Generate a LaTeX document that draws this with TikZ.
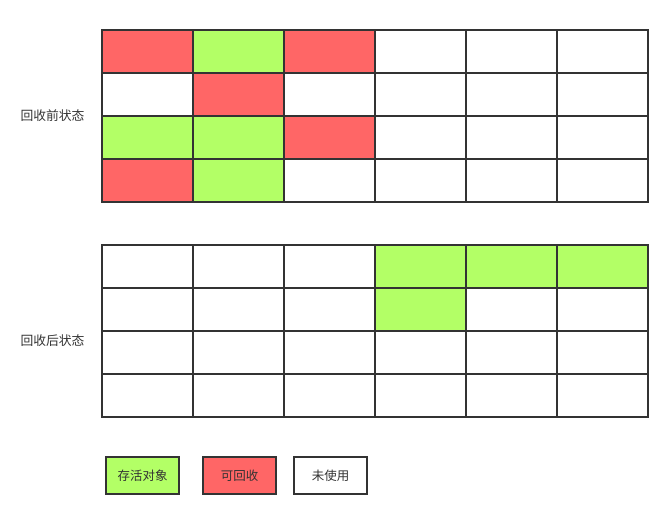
\documentclass[tikz,border=0pt]{standalone}
\usepackage{fontspec}
\newfontfamily\cjk{Noto Sans CJK SC}
\definecolor{live}{HTML}{B3FF66}
\definecolor{dead}{HTML}{FF6666}
\definecolor{edge}{HTML}{333333}
\begin{document}
\begin{tikzpicture}[x=1pt,y=-1pt,
  cell/.style={draw=edge,line width=2pt,minimum width=91pt,minimum height=43pt,inner sep=0pt,outer sep=0pt,anchor=north west},
  legendbox/.style={draw=edge,line width=2pt,minimum width=73pt,minimum height=37pt,inner sep=0pt,anchor=north west,font=\cjk\fontsize{12.5pt}{14pt}\selectfont,text=edge},
  statelabel/.style={font=\cjk\fontsize{12.8pt}{14pt}\selectfont,text=edge}]
\useasboundingbox (0,0) rectangle (668,509);
% grid 1 colours
\foreach \r/\row in {0/{dead,live,dead,white,white,white},1/{white,dead,white,white,white,white},2/{live,live,dead,white,white,white},3/{dead,live,white,white,white,white}}{
  \foreach \c [count=\ci from 0] in \row {
    \node[cell,fill=\c] (a-\r-\ci) at ({102+91*\ci},{30+43*\r}) {};
  }
}
% grid 2 colours
\foreach \r/\row in {0/{white,white,white,live,live,live},1/{white,white,white,live,white,white},2/{white,white,white,white,white,white},3/{white,white,white,white,white,white}}{
  \foreach \c [count=\ci from 0] in \row {
    \node[cell,fill=\c] (b-\r-\ci) at ({102+91*\ci},{245+43*\r}) {};
  }
}
\node[statelabel] (before) at (52.5,116) {回收前状态};
\node[statelabel] (after) at (52.5,341) {回收后状态};
\node[legendbox,fill=live] (lg1) at (105,456) {存活对象};
\node[legendbox,fill=dead] (lg2) at (202,456) {可回收};
\node[legendbox,fill=white] (lg3) at (293,456) {未使用};
\end{tikzpicture}
\end{document}
